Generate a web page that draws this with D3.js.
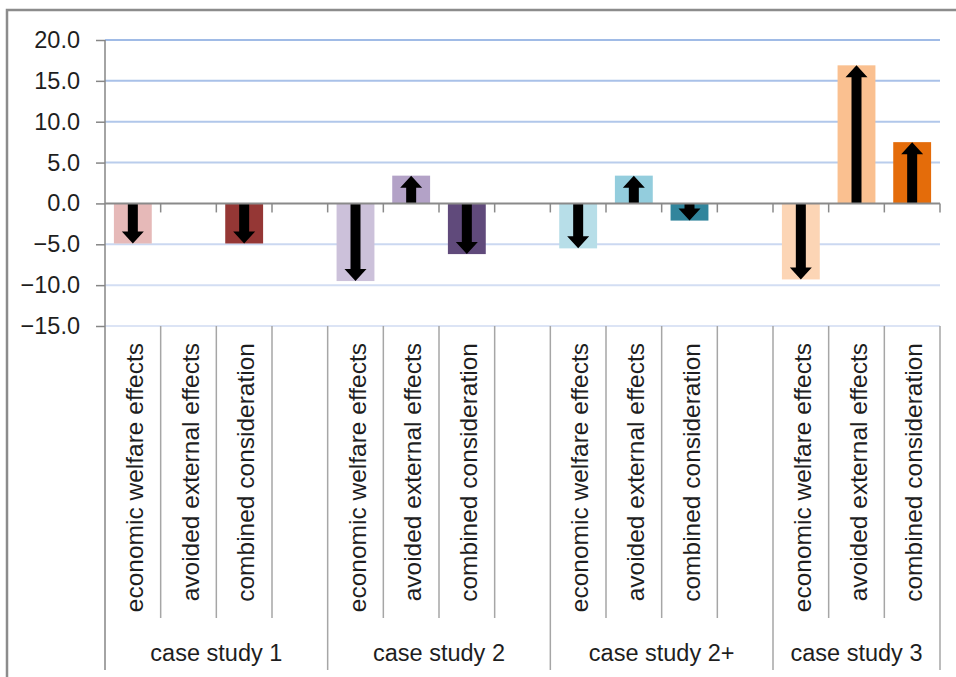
<!DOCTYPE html>
<html>
<head>
<meta charset="utf-8">
<script src="https://cdn.jsdelivr.net/npm/d3@7"></script>
<style>
  html, body { margin: 0; padding: 0; background: #fff; overflow: hidden; }
  svg { display: block; }
  text { font-family: "Liberation Sans", Arial, sans-serif; fill: #1e1e1e; }
</style>
</head>
<body>
<svg id="chart" width="956" height="677"></svg>
<script>
// ---------------- data ----------------
const groups = ["case study 1", "case study 2", "case study 2+", "case study 3"];
const categories = ["economic welfare effects", "avoided external effects", "combined consideration"];
const valuesCS1  = [-4.9, 0, -4.9];
const valuesCS2  = [-9.5, 3.4, -6.2];
const valuesCS2p = [-5.5, 3.4, -2.1];
const valuesCS3  = [-9.3, 16.9, 7.5];
const colorsCS1  = ["#E6B9B8", "#D99694", "#953735"];
const colorsCS2  = ["#CCC1DA", "#B3A2C7", "#604A7B"];
const colorsCS2p = ["#B7DEE8", "#93CDDD", "#31859C"];
const colorsCS3  = ["#FCD5B5", "#FAC090", "#E46C0A"];
const blankSlotAfter = [true, true, true, false];
const yTicks = [20, 15, 10, 5, 0, -5, -10, -15];

const groupValues = [valuesCS1, valuesCS2, valuesCS2p, valuesCS3];
const groupColors = [colorsCS1, colorsCS2, colorsCS2p, colorsCS3];

// ---------------- layout ----------------
const svg = d3.select("#chart");
const plotL = 105, plotR = 940, plotT = 40, plotB = 326;
const catLabelTop = 343, catSepBottom = 618, groupSepBottom = 670, groupLabelY = 661;

// build slot list
const slots = [];
groups.forEach((g, gi) => {
  categories.forEach((c, ci) => {
    slots.push({ key: g + "|" + c, group: gi, cat: c, value: groupValues[gi][ci], color: groupColors[gi][ci], blank: false });
  });
  if (blankSlotAfter[gi]) slots.push({ key: g + "|blank", group: gi, blank: true });
});

const x = d3.scaleBand().domain(slots.map(d => d.key)).range([plotL, plotR]).paddingInner(0).paddingOuter(0);
const y = d3.scaleLinear().domain([-15, 20]).range([plotB, plotT]);
const barW = x.step() / 1.47;

// border (chart area) - right/bottom fall outside view
svg.append("rect").attr("x", 7).attr("y", 10).attr("width", 980).attr("height", 700)
  .attr("fill", "none").attr("stroke", "#8C8C8C").attr("stroke-width", 2.5);

// gridlines (gradient of blue from top to bottom)
const gridColor = d3.scaleLinear().domain([20, -15]).range(["#A0BBE6", "#DCE4F5"]);
svg.append("g").selectAll("line").data(yTicks.filter(t => t !== 0)).join("line")
  .attr("x1", plotL).attr("x2", plotR)
  .attr("y1", d => y(d)).attr("y2", d => y(d))
  .attr("stroke", d => gridColor(d)).attr("stroke-width", 2);

// y axis
const yAxis = d3.axisLeft(y).tickValues(yTicks).tickFormat(d3.format(".1f")).tickSize(9).tickPadding(16);
const yg = svg.append("g").attr("transform", `translate(${plotL},0)`).call(yAxis);
yg.select(".domain").remove();
yg.selectAll(".tick line").attr("stroke", "#868686").attr("stroke-width", 1.5);
yg.selectAll(".tick text").attr("font-size", 23.5).attr("font-family", "Liberation Sans, Arial, sans-serif").attr("fill", "#1e1e1e");
svg.append("line").attr("x1", plotL).attr("x2", plotL).attr("y1", plotT).attr("y2", groupSepBottom)
  .attr("stroke", "#868686").attr("stroke-width", 1.5);

// bars
const dataSlots = slots.filter(d => !d.blank && d.value);
svg.append("g").selectAll("rect").data(dataSlots).join("rect")
  .attr("x", d => x(d.key) + (x.step() - barW) / 2)
  .attr("width", barW)
  .attr("y", d => Math.min(y(d.value), y(0)))
  .attr("height", d => Math.abs(y(d.value) - y(0)))
  .attr("fill", d => d.color);

// arrows
function arrowPath(d) {
  const cx = x(d.key) + x.step() / 2;
  const y0 = y(0), y1 = y(d.value);
  const dir = y1 < y0 ? 1 : -1; // 1 = up
  const len = Math.abs(y1 - y0);
  const h = Math.min(12, len);
  const hw = 11, sw = 5;
  const yb = y1 + dir * h;
  return `M${cx},${y1} L${cx + hw},${yb} L${cx + sw},${yb} L${cx + sw},${y0} L${cx - sw},${y0} L${cx - sw},${yb} L${cx - hw},${yb} Z`;
}
svg.append("g").selectAll("path").data(dataSlots).join("path")
  .attr("d", arrowPath).attr("fill", "#000");

// zero axis line
svg.append("line").attr("x1", plotL).attr("x2", plotR).attr("y1", y(0)).attr("y2", y(0))
  .attr("stroke", "#8A8A8A").attr("stroke-width", 2);

// boundaries
const boundaries = slots.map(d => x(d.key)).slice(1).concat([plotR]);
svg.append("g").selectAll("line").data(boundaries).join("line")
  .attr("x1", d => d).attr("x2", d => d).attr("y1", y(0)).attr("y2", y(0) + 9)
  .attr("stroke", "#8A8A8A").attr("stroke-width", 1.5);

// group boundaries
const groupStart = groups.map((g, gi) => x(slots.find(s => s.group === gi).key));
const groupEnd = groups.map((g, gi) => { const s = slots.filter(s => s.group === gi); return x(s[s.length - 1].key) + x.step(); });
const isGroupBoundary = b => groupStart.some(v => Math.abs(v - b) < 0.5) || groupEnd.some(v => Math.abs(v - b) < 0.5);

svg.append("g").selectAll("line").data(boundaries).join("line")
  .attr("x1", d => d).attr("x2", d => d).attr("y1", plotB)
  .attr("y2", d => isGroupBoundary(d) ? groupSepBottom : catSepBottom)
  .attr("stroke", "#A6A6A6").attr("stroke-width", 1.5);

// category labels (rotated)
svg.append("g").selectAll("text").data(slots.filter(d => !d.blank)).join("text")
  .attr("transform", d => `translate(${x(d.key) + x.step() / 2 + 10},${catLabelTop}) rotate(-90)`)
  .attr("text-anchor", "end").attr("font-size", 24.5)
  .text(d => d.cat);

// group labels
svg.append("g").selectAll("text").data(groups).join("text")
  .attr("x", (g, gi) => (groupStart[gi] + groupEnd[gi]) / 2)
  .attr("y", groupLabelY).attr("text-anchor", "middle").attr("font-size", 23.5)
  .text(d => d);
</script>
</body>
</html>
